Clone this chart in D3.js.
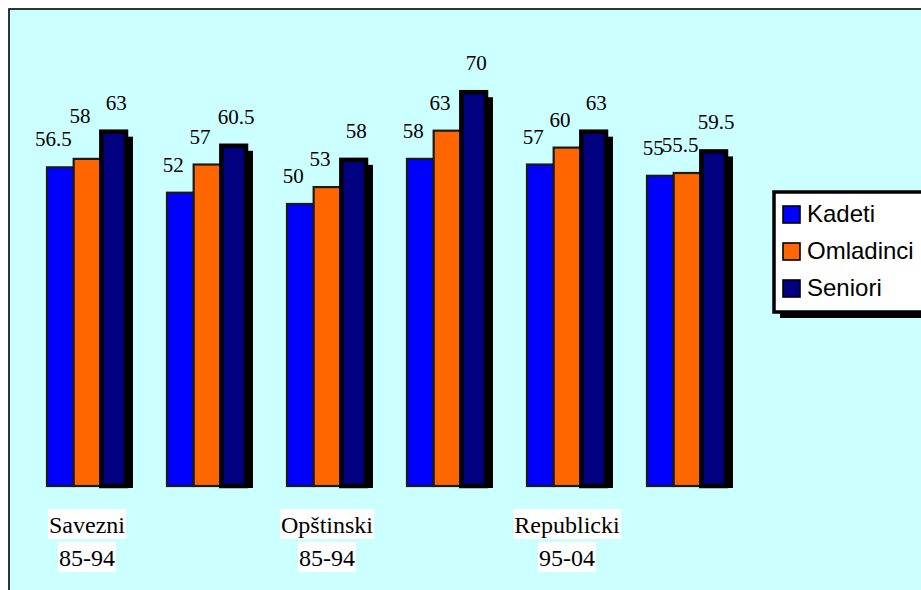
<!DOCTYPE html>
<html>
<head>
<meta charset="utf-8">
<script src="https://cdn.jsdelivr.net/npm/d3@7"></script>
<style>
  html, body { margin: 0; padding: 0; background: #ffffff; }
  svg { display: block; }
</style>
</head>
<body>
<svg id="chart" width="921" height="590"></svg>
<script>
// Average values per competition level and period
const groups = ["g1", "g2", "g3", "g4", "g5", "g6"];
const tickLines = [["Savezni", "85-94"], [], ["Opštinski", "85-94"], [], ["Republicki", "95-04"], []];
const seriesNames = ["Kadeti", "Omladinci", "Seniori"];
const kadeti = [56.5, 52, 50, 58, 57, 55];
const omladinci = [58, 57, 53, 63, 60, 55.5];
const seniori = [63, 60.5, 58, 70, 63, 59.5];
const seriesColors = ["#0000ff", "#ff6600", "#000080"];

const seriesValues = [kadeti, omladinci, seniori];

const svg = d3.select("#chart");
const W = 921, H = 590;

// chart area background with top/left frame
svg.append("rect").attr("x", 9).attr("y", 9).attr("width", W).attr("height", H)
  .attr("fill", "#ccffff").attr("stroke", "#000").attr("stroke-width", 1.6);

const x0 = d3.scaleBand().domain(groups).range([27, 747])
  .paddingInner(1 / 3).paddingOuter(1 / 6);
const x1 = d3.scaleBand().domain(seriesNames).range([0, x0.bandwidth()]);
const y = d3.scaleLinear().domain([0, 80]).range([486, 486 - 80 * 5.64]);

const bars = [];
groups.forEach((g, gi) => {
  seriesNames.forEach((s, si) => {
    bars.push({ g, gi, s, si, v: seriesValues[si][gi] });
  });
});

const plot = svg.append("g");
const gGroups = plot.selectAll("g.grp").data(groups).join("g").attr("class", "grp")
  .attr("transform", d => `translate(${x0(d)},0)`);

gGroups.each(function (g, gi) {
  const sel = d3.select(this);
  seriesNames.forEach((s, si) => {
    const v = seriesValues[si][gi];
    const bx = x1(s), bw = x1.bandwidth();
    const top = y(v), h = y(0) - y(v);
    if (si === 2) {
      // drop shadow + heavy outline on the last series
      sel.append("rect").attr("x", bx + 6).attr("y", top + 6)
        .attr("width", bw).attr("height", h - 4).attr("fill", "#000");
      sel.append("rect").attr("x", bx + 1).attr("y", top + 1)
        .attr("width", bw - 2).attr("height", h - 1)
        .attr("fill", seriesColors[si]).attr("stroke", "#000").attr("stroke-width", 4.5);
    } else {
      sel.append("rect").attr("x", bx).attr("y", top)
        .attr("width", bw).attr("height", h)
        .attr("fill", seriesColors[si]).attr("stroke", "#1a1a1a").attr("stroke-width", 2.2);
    }
  });
});

// value labels
const labelShift = [-7, -7, 2.5];
const labelLift = { "0-1": 15 };
svg.append("g").selectAll("text").data(bars).join("text")
  .attr("x", d => x0(d.g) + x1(d.s) + x1.bandwidth() / 2 + labelShift[d.si])
  .attr("y", d => y(d.v) - 21 - (labelLift[d.gi + "-" + d.si] || 0))
  .attr("text-anchor", "middle")
  .attr("font-family", "'Liberation Serif', 'Times New Roman', serif")
  .attr("font-size", 21)
  .attr("fill", "#000")
  .text(d => d.v);

// category labels on white backing
const catG = svg.append("g");
groups.forEach((g, gi) => {
  tickLines[gi].forEach((line, li) => {
    const cx = x0(g) + x0.bandwidth() / 2;
    const by = 533 + li * 33;
    const bg = catG.append("rect").attr("fill", "#fff");
    const t = catG.append("text").attr("x", cx).attr("y", by)
      .attr("text-anchor", "middle")
      .attr("font-family", "'Liberation Serif', 'Times New Roman', serif")
      .attr("font-size", 24).attr("fill", "#000").text(line);
    const bb = t.node().getBBox();
    bg.attr("x", bb.x - 1).attr("y", by - 24).attr("width", bb.width + 2).attr("height", 30);
  });
});

// legend
const lg = svg.append("g").attr("transform", "translate(774,192)");
lg.append("rect").attr("x", 6).attr("y", 6).attr("width", 170).attr("height", 120).attr("fill", "#000");
lg.append("rect").attr("x", 0).attr("y", 0).attr("width", 170).attr("height", 120)
  .attr("fill", "#fff").attr("stroke", "#000").attr("stroke-width", 3.5);
seriesNames.forEach((s, i) => {
  const row = lg.append("g").attr("transform", `translate(9,${14 + i * 37})`);
  row.append("rect").attr("width", 17).attr("height", 17)
    .attr("fill", seriesColors[i]).attr("stroke", "#000").attr("stroke-width", 1.6);
  row.append("text").attr("x", 24).attr("y", 16)
    .attr("font-family", "'Liberation Sans', Arial, sans-serif")
    .attr("font-size", 24).attr("fill", "#000").text(s);
});
</script>
</body>
</html>
